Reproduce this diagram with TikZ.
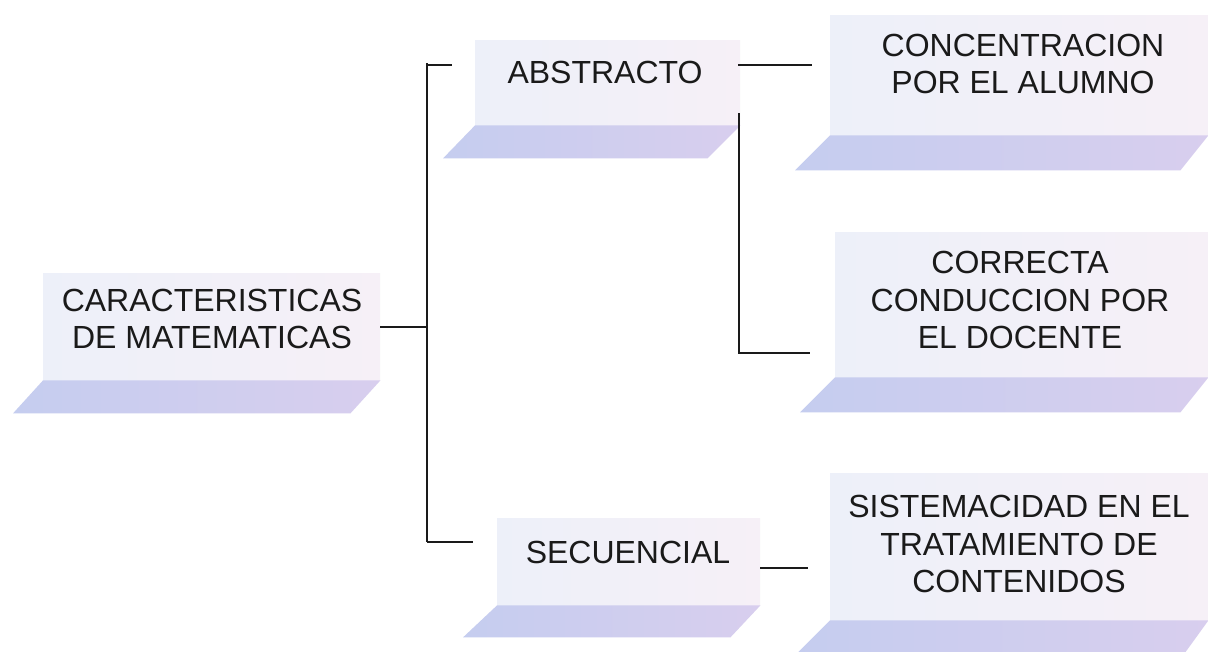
\documentclass[tikz,border=0pt]{standalone}
\usepackage{fontspec}
\setmainfont{Liberation Sans}
\usetikzlibrary{calc}
\definecolor{topL}{HTML}{EDF0F9}
\definecolor{topR}{HTML}{F6F0F7}
\definecolor{shL}{HTML}{C5CDEF}
\definecolor{shR}{HTML}{D8CEEE}
\definecolor{ink}{HTML}{1A1A1A}
\begin{document}
\begin{tikzpicture}[x=1pt,y=-1pt,
  topbox/.style={rectangle, draw=none, left color=topL, right color=topR, inner sep=0, anchor=north west},
  shelf/.style={draw=none, left color=shL, right color=shR},
  txt/.style={align=center, text=ink, inner sep=0, font=\fontsize{32}{37.5}\selectfont},
  conn/.style={draw=ink, line width=1.8pt}]
\useasboundingbox[fill=white] (0,0) rectangle (1208,651);
% boxes
\node[topbox, minimum width=337, minimum height=107] (b1) at (43,273) {};
\path[shelf] (b1.south west) -- (b1.south east) -- ++(-30,33) -- ($(b1.south west)+(-30,33)$) -- cycle;
\node[topbox, minimum width=265, minimum height=85] (b2) at (475,40) {};
\path[shelf] (b2.south west) -- (b2.south east) -- ++(-33,33) -- ($(b2.south west)+(-32,33)$) -- cycle;
\node[topbox, minimum width=378, minimum height=120] (b3) at (830,15) {};
\path[shelf] (b3.south west) -- (b3.south east) -- ++(-28,35) -- ($(b3.south west)+(-35,35)$) -- cycle;
\node[topbox, minimum width=373, minimum height=145] (b4) at (835,232) {};
\path[shelf] (b4.south west) -- (b4.south east) -- ++(-28,35) -- ($(b4.south west)+(-35,35)$) -- cycle;
\node[topbox, minimum width=263, minimum height=87] (b5) at (497,518) {};
\path[shelf] (b5.south west) -- (b5.south east) -- ++(-30,32) -- ($(b5.south west)+(-34,32)$) -- cycle;
\node[topbox, minimum width=378, minimum height=147] (b6) at (830,473) {};
\path[shelf] (b6.south west) -- (b6.south east) -- ++(-26,36) -- ($(b6.south west)+(-36,36)$) -- cycle;
% texts
\node[txt] (t1) at (212,319) {CARACTERISTICAS\\DE MATEMATICAS};
\node[txt] (t2) at (605,72) {ABSTRACTO};
\node[txt] (t3) at (1023,64) {CONCENTRACION\\POR EL ALUMNO};
\node[txt] (t4) at (1020,300) {CORRECTA\\CONDUCCION POR\\EL DOCENTE};
\node[txt] (t5) at (628,552) {SECUENCIAL};
\node[txt] (t6) at (1019,544) {SISTEMACIDAD EN EL\\TRATAMIENTO DE\\CONTENIDOS};
% connector points
\coordinate (j1) at (427,327);
\coordinate (jt) at (427,63);
\coordinate (jb) at (427,542);
\coordinate (a1) at (452,65);
\coordinate (s1) at (473,542);
\coordinate (c0) at (738,65);
\coordinate (c1) at (812,65);
\coordinate (d0) at (739,113);
\coordinate (d1) at (739,353);
\coordinate (d2) at (810,353);
\coordinate (e0) at (760,568);
\coordinate (e1) at (808,568);
% connectors
\draw[conn] (b1.east |- j1) -- (j1);
\draw[conn] (jt) -- (jb);
\draw[conn] (427,65) -- (a1);
\draw[conn] (jb) -- (s1);
\draw[conn] (c0) -- (c1);
\draw[conn] (d0) -- (d1) -- (d2);
\draw[conn] (e0) -- (e1);
\end{tikzpicture}
\end{document}
